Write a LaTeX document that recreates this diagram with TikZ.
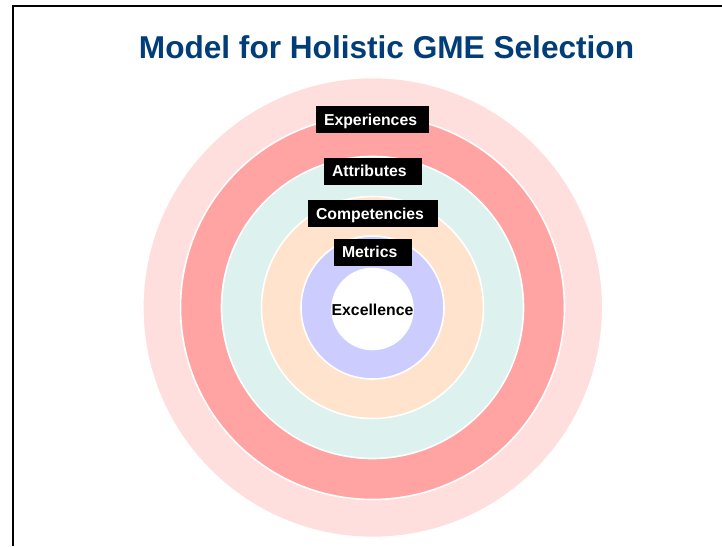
\documentclass[tikz,border=0pt]{standalone}
\usepackage{fontspec}
\setmainfont{Liberation Sans}
\definecolor{titleblue}{RGB}{0,61,121}
\definecolor{ringpink}{RGB}{255,222,222}
\definecolor{ringred}{RGB}{255,163,163}
\definecolor{ringteal}{RGB}{221,241,238}
\definecolor{ringpeach}{RGB}{255,227,204}
\definecolor{ringblue}{RGB}{204,204,255}
\begin{document}
\begin{tikzpicture}[x=1pt,y=-1pt,
  ring/.style={circle, inner sep=0pt, draw=white, line width=1.6pt, minimum size=#1},
  tag/.style={fill=black, text=white, font=\fontsize{15.8}{18}\selectfont\bfseries,
    inner xsep=8pt, inner ysep=0pt, minimum height=27pt, text height=11.3pt, text depth=0pt,
    align=left, text width=#1}]
\useasboundingbox (0,0) rectangle (722,546);
\fill[white] (0,0) rectangle (722,546);
\draw[line width=2pt] (13.3,546) coordinate (fbl) -- (13.3,5.8) coordinate (ftl) -- (722,5.8) coordinate (ftr);
\node[anchor=base, text=titleblue, font=\fontsize{31.6}{36}\selectfont\bfseries] (title) at (386.5,58.3) {Model for Holistic GME Selection};
\node[ring=460pt, fill=ringpink] (r1) at (372.8,307.5) {};
\node[ring=384pt, fill=ringred] (r2) at (372.5,307.5) {};
\node[ring=302pt, fill=ringteal] (r3) at (372.5,307.5) {};
\node[ring=222pt, fill=ringpeach] (r4) at (372.5,307.5) {};
\node[ring=143pt, fill=ringblue] (r5) at (372.5,307.5) {};
\node[ring=81pt, fill=white] (r6) at (372.5,309) {};
\node[font=\fontsize{15.8}{18}\selectfont\bfseries, text=black] (exc) at (372.5,309.5) {Excellence};
\node[tag=97pt, minimum width=113pt] (t1) at (372.5,119.5) {Experiences};
\node[tag=82pt, minimum width=98pt] (t2) at (373,171) {Attributes};
\node[tag=114pt, minimum width=130pt] (t3) at (373,213.5) {Competencies};
\node[tag=62pt, minimum width=78pt] (t4) at (373,252) {Metrics};
\end{tikzpicture}
\end{document}
